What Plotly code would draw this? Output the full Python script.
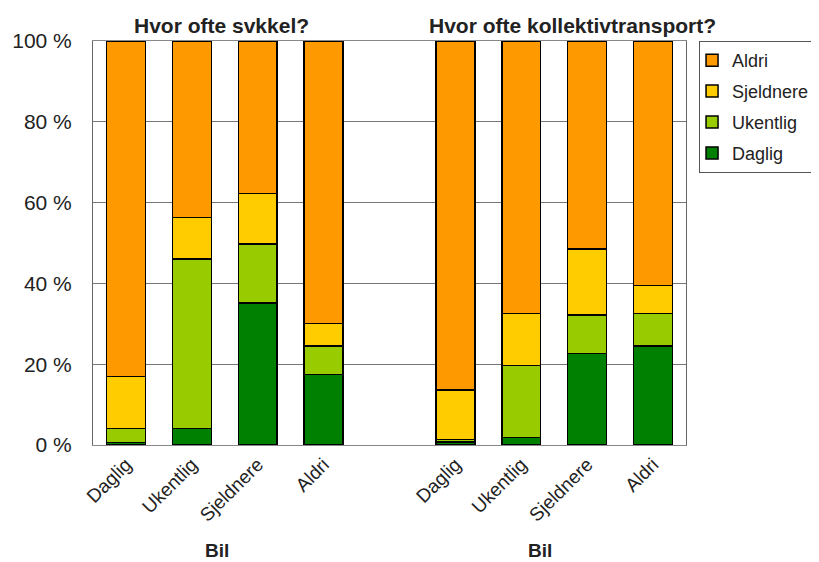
import plotly.graph_objects as go

# x positions: two groups of four, with an empty slot in between
x_pos = [0, 1, 2, 3, 5, 6, 7, 8]
x_labels = ["Daglig", "Ukentlig", "Sjeldnere", "Aldri",
            "Daglig", "Ukentlig", "Sjeldnere", "Aldri"]

daglig = [0.6, 4.1, 35.1, 17.5, 0.8, 1.9, 22.7, 24.5]
ukentlig = [3.5, 42.0, 14.6, 7.0, 0.6, 17.8, 9.5, 8.0]
sjeldnere = [12.8, 10.2, 12.6, 5.6, 12.2, 12.9, 16.3, 7.0]
aldri = [83.1, 43.7, 37.7, 69.9, 86.4, 67.4, 51.5, 60.5]

y_ticks = [0, 20, 40, 60, 80, 100]
y_labels = ["0 %", "20 %", "40 %", "60 %", "80 %", "100 %"]

font = "Liberation Sans, Arial, sans-serif"
txt = "#222222"

series = [
    ("Daglig", daglig, "#008000", 4),
    ("Ukentlig", ukentlig, "#99CC00", 3),
    ("Sjeldnere", sjeldnere, "#FFCC00", 2),
    ("Aldri", aldri, "#FF9900", 1),
]

fig = go.Figure()
for name, vals, color, rank in series:
    fig.add_trace(go.Bar(
        x=x_pos, y=vals, name=name, legendgroup=name, legendrank=rank,
        width=0.59,
        marker=dict(color=color, line=dict(color="black", width=1.5)),
    ))


def note(text, x, y, size):
    return dict(text=text, x=x, y=y, xref="paper", yref="paper",
                xanchor="center", yanchor="middle", showarrow=False,
                font=dict(size=size, family=font, color=txt))


fig.update_layout(
    barmode="stack",
    width=819, height=562,
    margin=dict(l=85, r=141, t=33, b=125, autoexpand=False),
    paper_bgcolor="white", plot_bgcolor="white",
    font=dict(family=font, color=txt),
    legend=dict(
        x=1.022, y=1.0, xanchor="left", yanchor="top",
        traceorder="grouped",
        bordercolor="#555555", borderwidth=1,
        font=dict(size=18, family=font, color=txt),
        itemwidth=30, tracegroupgap=4.5, indentation=-8,
    ),
    xaxis=dict(
        range=[-0.5, 8.5], tickmode="array",
        tickvals=x_pos, ticktext=x_labels, tickangle=-45,
        tickfont=dict(size=19, family=font, color=txt),
        showline=True, linecolor="#888888", mirror=True,
        showgrid=False, zeroline=False, automargin=False,
    ),
    yaxis=dict(
        range=[0, 100], tickmode="array",
        tickvals=y_ticks, ticktext=y_labels,
        tickfont=dict(size=21, family=font, color=txt),
        showline=True, linecolor="#666666", mirror=True,
        showgrid=True, gridcolor="#777777", gridwidth=1,
        zeroline=False, ticklabelstandoff=16, automargin=False,
    ),
    annotations=[
        note("<b>Hvor ofte svkkel?</b>", 0.2175, 1.0396, 21),
        note("<b>Hvor ofte kollektivtransport?</b>", 0.808, 1.0396, 21),
        note("<b>Bil</b>", 0.209, -0.26, 19),
        note("<b>Bil</b>", 0.754, -0.26, 19),
    ],
)

fig.write_html("out.html")
